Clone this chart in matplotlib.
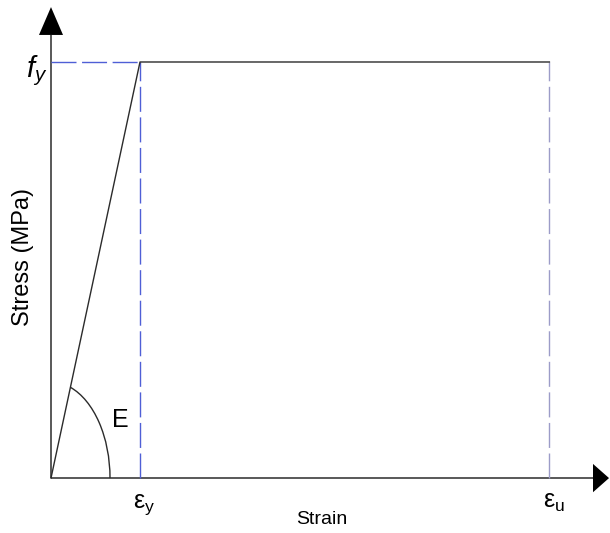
import numpy as np
import matplotlib
matplotlib.use("Agg")
import matplotlib.pyplot as plt
from matplotlib.patches import Arc, Polygon

plt.rcParams['font.family'] = ['Liberation Sans', 'DejaVu Sans']
plt.rcParams['mathtext.fontset'] = 'custom'
plt.rcParams['mathtext.rm'] = 'Liberation Sans'
plt.rcParams['mathtext.it'] = 'Liberation Sans:italic'

# elastic-perfectly-plastic model, normalised by yield values
strain_pts = [0.0, 1.0, 5.6]   # 0, eps_y, eps_u
stress_pts = [0.0, 1.0, 1.0]   # 0, f_y, f_y
eps_y, eps_u = strain_pts[1], strain_pts[2]
f_y = stress_pts[1]

x_label = "Strain"
y_label = "Stress (MPa)"

AX_COL = '#2b2b2b'
BLUE = '#4f5fd6'
LAV = '#9c9cc8'

fig = plt.figure(figsize=(6.10, 5.33), dpi=100)
ax = fig.add_axes([0, 0, 1, 1])
ax.set_xlim(-0.573, 6.281)
ax.set_ylim(-0.132, 1.149)
ax.axis('off')

# axes with arrow heads
x_end, y_end = 6.09, 1.065
ax.plot([0, 0], [0, y_end], color=AX_COL, lw=1.1, solid_capstyle='butt')
ax.plot([0, x_end], [0, 0], color=AX_COL, lw=1.1, solid_capstyle='butt')
ax.add_patch(Polygon([[-0.135, y_end], [0.135, y_end], [0, 1.132]],
                     closed=True, color='black', lw=0))
ax.add_patch(Polygon([[x_end, -0.034], [x_end, 0.034], [6.27, 0]],
                     closed=True, color='black', lw=0, clip_on=False))

# guide lines at yield / ultimate
ax.plot([0, eps_y], [f_y, f_y], color=BLUE, lw=1.0, dashes=(18, 4))
ax.plot([eps_y, eps_y], [0, f_y], color=BLUE, lw=1.0, dashes=(18, 4))
ax.plot([eps_u, eps_u], [0, f_y], color=LAV, lw=1.0, dashes=(18, 4))

# stress-strain curve
ax.plot(strain_pts, stress_pts, color=AX_COL, lw=1.0)

# modulus arc
arc_w, arc_h = 1.326, 0.462
ax.add_patch(Arc((0, 0), arc_w, arc_h, theta1=0,
                 theta2=np.degrees(np.arctan2(f_y, eps_y)), color=AX_COL, lw=1.0))
ax.text(arc_w / 2 + 0.02, 0.14, "E", fontsize=18, ha='left', va='center')

# labels
ax.annotate(r'$f_y$', xy=(0, f_y), xytext=(-3, -6), textcoords='offset points',
            fontsize=21, ha='right', va='center')
ax.annotate(r'$\mathrm{\varepsilon_y}$', xy=(eps_y, 0), xytext=(3, -19),
            textcoords='offset points', fontsize=18, ha='center', va='center')
ax.annotate(r'$\mathrm{\varepsilon_u}$', xy=(eps_u, 0), xytext=(3, -17),
            textcoords='offset points', fontsize=18, ha='center', va='center')

ax.text(0.528, 0.026, x_label, transform=ax.transAxes, fontsize=14,
        ha='center', va='center')
ax.text(0.038, 0.518, y_label, transform=ax.transAxes, fontsize=17,
        rotation=90, ha='center', va='center')

fig.savefig("out.png", dpi=100)
